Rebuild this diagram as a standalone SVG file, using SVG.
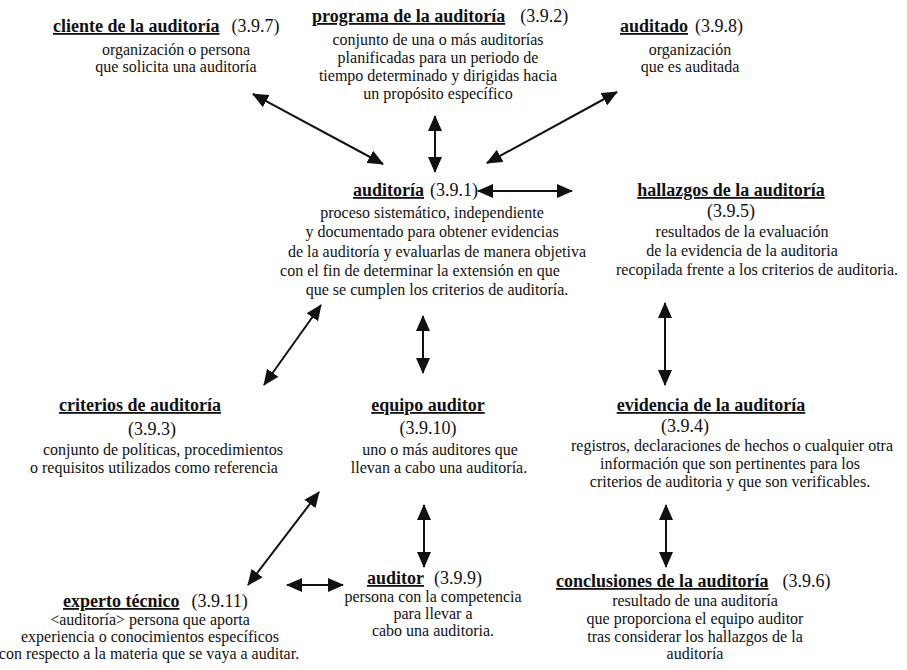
<svg xmlns="http://www.w3.org/2000/svg" width="907" height="670" viewBox="0 0 907 670">
<defs>
<style>
text{font-family:"Liberation Serif","Times New Roman",serif;fill:#111}
.h{font-size:18px;font-weight:bold;text-decoration:underline}
.r{font-size:18px}
.b{font-size:16px;text-anchor:middle}
.m{text-anchor:middle}
.c line{stroke:#111;stroke-width:2;marker-start:url(#ah);marker-end:url(#ah)}
</style>
<marker id="ah" viewBox="0 0 16 14" refX="15" refY="7" markerWidth="16" markerHeight="14" markerUnits="userSpaceOnUse" orient="auto-start-reverse">
<path d="M0,0 L16,7 L0,14 Z" fill="#111"/>
</marker>
</defs>
<rect width="907" height="670" fill="#fff"/>
<g id="cliente">
<text x="53" y="32"><tspan class="h">cliente de la auditoría</tspan><tspan class="r" dx="12">(3.9.7)</tspan></text>
<text class="b" x="176" y="55">organización o persona</text>
<text class="b" x="176" y="72">que solicita una auditoría</text>
</g>
<g id="programa">
<text x="312" y="22"><tspan class="h">programa de la auditoría</tspan><tspan class="r" dx="15">(3.9.2)</tspan></text>
<text class="b" x="438" y="45">conjunto de una o más auditorías</text>
<text class="b" x="438" y="63">planificadas para un periodo de</text>
<text class="b" x="438" y="81">tiempo determinado y dirigidas hacia</text>
<text class="b" x="438" y="99">un propósito específico</text>
</g>
<g id="auditado">
<text x="620" y="32"><tspan class="h">auditado</tspan><tspan class="r" dx="7">(3.9.8)</tspan></text>
<text class="b" x="690" y="55">organización</text>
<text class="b" x="690" y="72">que es auditada</text>
</g>
<g id="auditoria">
<text x="353" y="196"><tspan class="h">auditoría</tspan><tspan class="r" dx="6">(3.9.1)</tspan></text>
<text class="b" x="432" y="218">proceso sistemático, independiente</text>
<text class="b" x="432" y="237">y documentado para obtener evidencias</text>
<text class="b" x="437" y="257">de la auditoría y evaluarlas de manera objetiva</text>
<text class="b" x="420" y="276">con el fin de determinar la extensión en que</text>
<text class="b" x="437" y="295">que se cumplen los criterios de auditoría.</text>
</g>
<g id="hallazgos">
<text class="h m" x="731" y="196">hallazgos de la auditoría</text>
<text class="r m" x="731" y="217">(3.9.5)</text>
<text class="b" x="742" y="237">resultados de la evaluación</text>
<text class="b" x="742" y="256">de la evidencia de la auditoria</text>
<text class="b" x="757" y="275">recopilada frente a los criterios de auditoria.</text>
</g>
<g id="criterios">
<text class="h m" x="140" y="411">criterios de auditoría</text>
<text class="r m" x="152" y="435">(3.9.3)</text>
<text class="b" x="163" y="455">conjunto de políticas, procedimientos</text>
<text class="b" x="154" y="473">o requisitos utilizados como referencia</text>
</g>
<g id="equipo">
<text class="h m" x="428" y="411">equipo auditor</text>
<text class="r m" x="428" y="434">(3.9.10)</text>
<text class="b" x="440" y="455">uno o más auditores que</text>
<text class="b" x="439" y="473">llevan a cabo una auditoría.</text>
</g>
<g id="evidencia">
<text class="h m" x="711" y="411">evidencia de la auditoría</text>
<text class="r m" x="685" y="432">(3.9.4)</text>
<text class="b" x="732" y="451">registros, declaraciones de hechos o cualquier otra</text>
<text class="b" x="730" y="469">información que son pertinentes para los</text>
<text class="b" x="730" y="487">criterios de auditoria y que son verificables.</text>
</g>
<g id="auditor">
<text x="367" y="584"><tspan class="h">auditor</tspan><tspan class="r" dx="10">(3.9.9)</tspan></text>
<text class="b" x="433" y="602">persona con la competencia</text>
<text class="b" x="433" y="619">para llevar a</text>
<text class="b" x="433" y="636">cabo una auditoria.</text>
</g>
<g id="conclusiones">
<text x="556" y="587"><tspan class="h">conclusiones de la auditoría</tspan><tspan class="r" dx="14">(3.9.6)</tspan></text>
<text class="b" x="695" y="606">resultado de una auditoría</text>
<text class="b" x="695" y="624">que proporciona el equipo auditor</text>
<text class="b" x="695" y="642">tras considerar los hallazgos de la</text>
<text class="b" x="695" y="659">auditoría</text>
</g>
<g id="experto">
<text x="63" y="607"><tspan class="h">experto técnico</tspan><tspan class="r" dx="12">(3.9.11)</tspan></text>
<text class="b" x="150" y="625">&lt;auditoría&gt; persona que aporta</text>
<text class="b" x="150" y="642">experiencia o conocimientos específicos</text>
<text class="b" x="149" y="659">con respecto a la materia que se vaya a auditar.</text>
</g>
<g id="connectors" class="c">
<line x1="253" y1="94" x2="383" y2="164"/>
<line x1="435" y1="116" x2="435" y2="172"/>
<line x1="617" y1="92" x2="487" y2="163"/>
<line x1="478" y1="191" x2="572" y2="191"/>
<line x1="321" y1="305" x2="264" y2="385"/>
<line x1="423" y1="316" x2="423" y2="373"/>
<line x1="665" y1="303" x2="665" y2="385"/>
<line x1="319" y1="492" x2="248" y2="585"/>
<line x1="424" y1="505" x2="424" y2="567"/>
<line x1="666" y1="505" x2="666" y2="567"/>
<line x1="287" y1="585" x2="343" y2="585"/>
</g>
</svg>
